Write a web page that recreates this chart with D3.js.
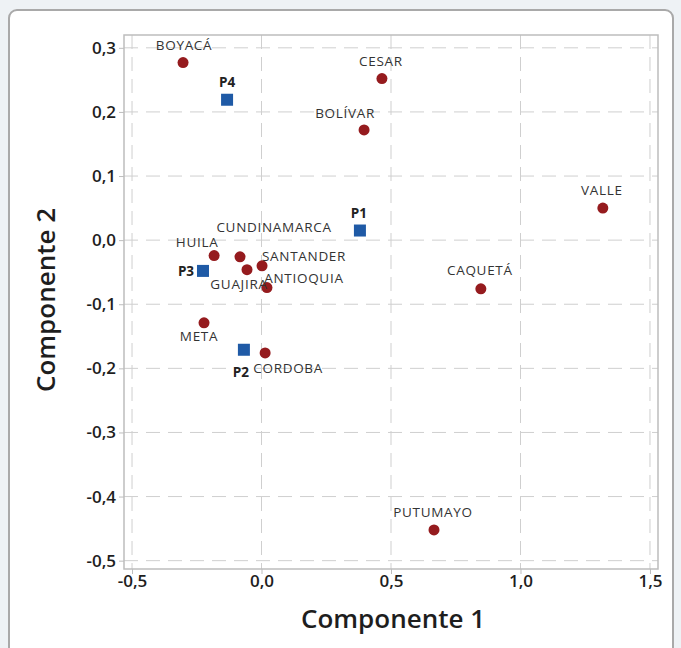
<!DOCTYPE html>
<html>
<head>
<meta charset="utf-8">
<script src="https://cdn.jsdelivr.net/npm/d3@7"></script>
<style>
  body { margin: 0; background: #eef2f5; }
  svg { display: block; }
</style>
</head>
<body>
<svg></svg>
<script>
// departments (red circles)
var departments = ["BOYACÁ", "CESAR", "BOLÍVAR", "VALLE", "CUNDINAMARCA", "HUILA", "GUAJIRA",
                   "SANTANDER", "ANTIOQUIA", "CAQUETÁ", "META", "CORDOBA", "PUTUMAYO"];
var depComp1 = [-0.303, 0.465, 0.396, 1.318, -0.083, -0.183, -0.056, 0.002, 0.021, 0.847, -0.222, 0.014, 0.666];
var depComp2 = [0.277, 0.252, 0.172, 0.050, -0.026, -0.024, -0.046, -0.040, -0.074, -0.076, -0.129, -0.176, -0.452];

// variables (blue squares)
var variables = ["P1", "P2", "P3", "P4"];
var varComp1 = [0.380, -0.068, -0.226, -0.133];
var varComp2 = [0.015, -0.171, -0.048, 0.219];

var xTicks = [-0.5, 0.0, 0.5, 1.0, 1.5];
var yTicks = [0.3, 0.2, 0.1, 0.0, -0.1, -0.2, -0.3, -0.4, -0.5];

// label placement (px, relative to the marker)
var labelOffset = {
    "BOYACÁ": [1, -18], "CESAR": [-1, -18], "BOLÍVAR": [-19, -17], "VALLE": [-1, -18],
    "CUNDINAMARCA": [34, -30], "HUILA": [-17, -14], "GUAJIRA": [-8, 14], "SANTANDER": [42, -10],
    "ANTIOQUIA": [37, -10], "CAQUETÁ": [-1, -19], "META": [-5, 13], "CORDOBA": [23, 15],
    "PUTUMAYO": [-1, -18],
    "P1": [-1, -18], "P2": [-3, 22], "P3": [-17, 0], "P4": [0, -18]
};

var svgWidth = 681, svgHeight = 648;
var plotLeft = 124, plotRight = 658, plotTop = 35, plotBottom = 569;

var svg = d3.select("svg")
    .attr("width", svgWidth)
    .attr("height", svgHeight);

// panel
svg.append("rect")
    .attr("x", 9).attr("y", 10)
    .attr("width", 664).attr("height", 660)
    .attr("rx", 8)
    .attr("fill", "#fff")
    .attr("stroke", "#a9a9a9")
    .attr("stroke-width", 2);

var xScale = d3.scaleLinear().domain([-0.531, 1.531]).range([plotLeft, plotRight]);
var yScale = d3.scaleLinear().domain([-0.513, 0.320]).range([plotBottom, plotTop]);

var fmt = function (d) { return d3.format(".1f")(d).replace(".", ",").replace("−", "-"); };

// grid
svg.append("g").selectAll("line")
    .data(xTicks).enter().append("line")
    .attr("x1", function (d) { return xScale(d); })
    .attr("x2", function (d) { return xScale(d); })
    .attr("y1", plotTop).attr("y2", plotBottom)
    .attr("stroke", "#cfcfcf").attr("stroke-dasharray", "14,8");

svg.append("g").selectAll("line")
    .data(yTicks).enter().append("line")
    .attr("y1", function (d) { return yScale(d); })
    .attr("y2", function (d) { return yScale(d); })
    .attr("x1", plotLeft).attr("x2", plotRight)
    .attr("stroke", "#cfcfcf").attr("stroke-dasharray", "14,8");

// frame
svg.append("rect")
    .attr("x", plotLeft).attr("y", plotTop)
    .attr("width", plotRight - plotLeft).attr("height", plotBottom - plotTop)
    .attr("fill", "none").attr("stroke", "#bdbdbd").attr("stroke-width", 1.5);

// axes
var xAxis = svg.append("g")
    .attr("transform", "translate(0," + plotBottom + ")")
    .call(d3.axisBottom(xScale).tickValues(xTicks).tickFormat(fmt).tickSize(5).tickPadding(1));
var yAxis = svg.append("g")
    .attr("transform", "translate(" + plotLeft + ",0)")
    .call(d3.axisLeft(yScale).tickValues(yTicks).tickFormat(fmt).tickSize(5).tickPadding(3));

[xAxis, yAxis].forEach(function (a) {
    a.select(".domain").remove();
    a.selectAll("line").attr("stroke", "#bdbdbd");
    a.selectAll("text")
        .attr("fill", "#1e1e1e")
        .style("font-family", "'Open Sans', sans-serif")
        .style("font-weight", 600)
        .style("font-size", "17px");
});

svg.append("text")
    .attr("x", (plotLeft + plotRight) / 2 + 2).attr("y", 628)
    .attr("text-anchor", "middle")
    .attr("fill", "#1e1e1e")
    .style("font-family", "'Open Sans', sans-serif")
    .style("font-weight", 600)
    .style("font-size", "26px")
    .text("Componente 1");

svg.append("text")
    .attr("transform", "translate(55," + ((plotTop + plotBottom) / 2 - 2) + ") rotate(-90)")
    .attr("text-anchor", "middle")
    .attr("fill", "#1e1e1e")
    .style("font-family", "'Open Sans', sans-serif")
    .style("font-weight", 600)
    .style("font-size", "26px")
    .text("Componente 2");

// department points
svg.append("g").selectAll("circle")
    .data(departments).enter().append("circle")
    .attr("cx", function (d, i) { return xScale(depComp1[i]); })
    .attr("cy", function (d, i) { return yScale(depComp2[i]); })
    .attr("r", 5.5)
    .attr("fill", "#951b1e");

svg.append("g").selectAll("text")
    .data(departments).enter().append("text")
    .attr("x", function (d, i) { return xScale(depComp1[i]) + labelOffset[d][0]; })
    .attr("y", function (d, i) { return yScale(depComp2[i]) + labelOffset[d][1]; })
    .attr("text-anchor", "middle")
    .attr("dominant-baseline", "central")
    .attr("fill", "#333")
    .style("font-family", "'Open Sans', sans-serif")
    .style("font-size", "13.5px")
    .style("letter-spacing", "0.7px")
    .text(function (d) { return d; });

// variable points
svg.append("g").selectAll("rect")
    .data(variables).enter().append("rect")
    .attr("x", function (d, i) { return xScale(varComp1[i]) - 6; })
    .attr("y", function (d, i) { return yScale(varComp2[i]) - 6; })
    .attr("width", 12).attr("height", 12)
    .attr("fill", "#1f5aa6");

svg.append("g").selectAll("text")
    .data(variables).enter().append("text")
    .attr("x", function (d, i) { return xScale(varComp1[i]) + labelOffset[d][0]; })
    .attr("y", function (d, i) { return yScale(varComp2[i]) + labelOffset[d][1]; })
    .attr("text-anchor", "middle")
    .attr("dominant-baseline", "central")
    .attr("fill", "#222")
    .style("font-family", "'Open Sans', sans-serif")
    .style("font-weight", 700)
    .style("font-size", "13.5px")
    .text(function (d) { return d; });
</script>
</body>
</html>
